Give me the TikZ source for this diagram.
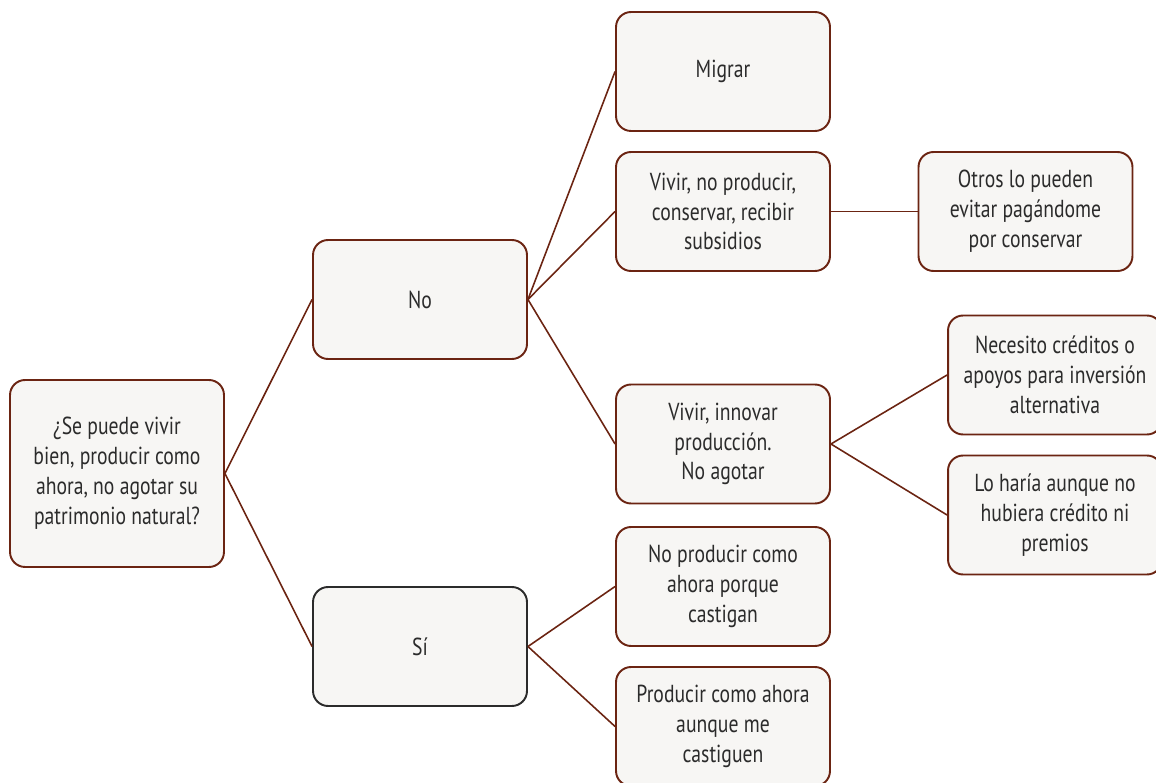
\documentclass[tikz,border=0pt]{standalone}
\usepackage{fontspec}
\setmainfont[FakeStretch=0.80]{PT Sans}
\definecolor{borde}{HTML}{6B2412}
\definecolor{relleno}{HTML}{F7F6F4}
\definecolor{texto}{HTML}{2B2B2B}
\tikzset{
  caja/.style={draw=borde, line width=1.1pt, fill=relleno, rounded corners=0.3cm,
    minimum width=4.28cm, minimum height=2.38cm, align=center, text=texto,
    font=\fontsize{14}{17}\selectfont},
  rama/.style={draw=borde, line width=0.9pt}
}
\begin{document}
\begin{tikzpicture}[x=0.02cm,y=-0.02cm]
                \clip (0,0) rectangle (1156,783);
                \useasboundingbox (0,0) rectangle (1156,783);
                % arbol de decision
                \node[caja, minimum height=3.74cm] (pregunta) at (117,473.5) {¿Se puede vivir\\bien, producir como\\ahora, no agotar su\\patrimonio natural?};
                \node[caja] (no) at (420,299.5) {No};
                \node[caja, draw=texto] (si) at (420,646.5) {Sí};
                \node[caja] (migrar) at (723,71.5) {Migrar};
                \node[caja] (subsidios) at (723,211.5) {Vivir, no producir,\\conservar, recibir\\subsidios};
                \node[caja] (otros) at (1025.5,211.5) {Otros lo pueden\\evitar pagándome\\por conservar};
                \node[caja] (innovar) at (723,444) {Vivir, innovar\\producción.\\No agotar};
                \node[caja] (creditos) at (1055,375) {Necesito créditos o\\apoyos para inversión\\alternativa};
                \node[caja] (haria) at (1055,515) {Lo haría aunque no\\hubiera crédito ni\\premios};
                \node[caja] (castigan) at (723,586.5) {No producir como\\ahora porque\\castigan};
                \node[caja] (producir) at (723,726.5) {Producir como ahora\\aunque me\\castiguen};
                \draw[rama] (pregunta.east) -- (no.west);
                \draw[rama] (pregunta.east) -- (si.west);
                \draw[rama] (no.east) -- (migrar.west);
                \draw[rama] (no.east) -- (subsidios.west);
                \draw[rama] (no.east) -- (innovar.west);
                \draw[rama] (subsidios.east) -- (otros.west);
                \draw[rama] (innovar.east) -- (creditos.west);
                \draw[rama] (innovar.east) -- (haria.west);
                \draw[rama] (si.east) -- (castigan.west);
                \draw[rama] (si.east) -- (producir.west);
            \end{tikzpicture}
\end{document}
